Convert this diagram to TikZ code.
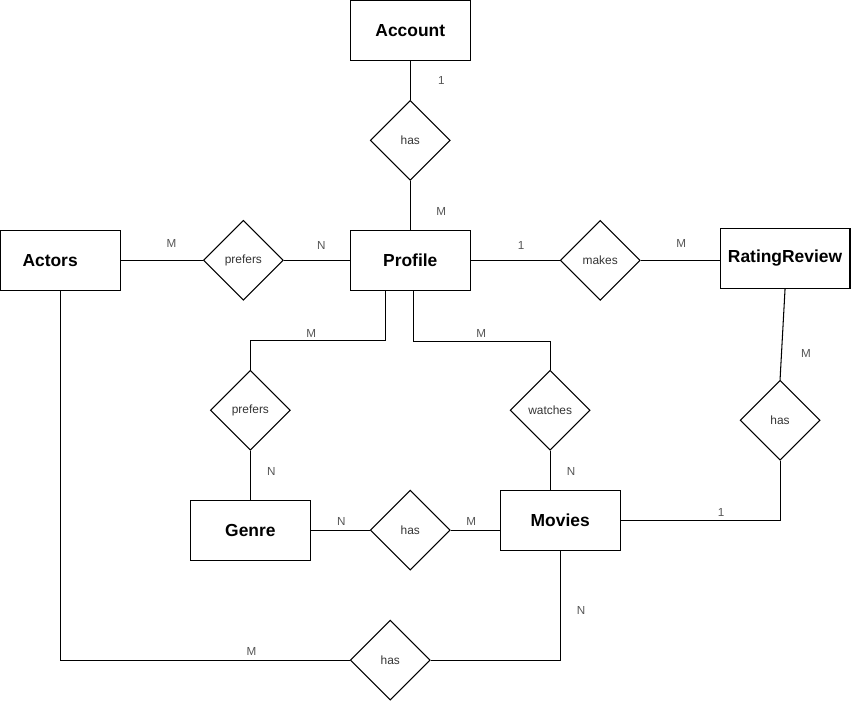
\documentclass[tikz,border=0pt]{standalone}
\usepackage{fontspec}
\setmainfont{Liberation Sans}
\usetikzlibrary{shapes.geometric}
\definecolor{ink}    {HTML}{000000}
\definecolor{reltext}{HTML}{333333}
\definecolor{muted}  {HTML}{555555}
\tikzset{
  entity/.style={draw=ink, line width=0.75pt, minimum width=3cm, minimum height=1.5cm,
    inner sep=0pt, font=\fontsize{12.4}{14}\selectfont\bfseries},
  relation/.style={draw=ink, line width=0.75pt, diamond, minimum width=2cm, minimum height=2cm,
    inner sep=0pt, text=reltext, font=\fontsize{8.5}{10}\selectfont},
  card/.style={text=muted, font=\fontsize{8.3}{10}\selectfont},
  link/.style={draw=ink, line width=0.75pt}
}
\begin{document}
\begin{tikzpicture}
    \node[entity] (account) at (10.25, 16.775) {Account};
    \node[entity] (profile) at (10.25, 11.025) {Profile};
    \node[entity, text width=1.9cm, align=left, inner xsep=0.55cm] (actors) at (1.5, 11.025) {Actors};
    \node[entity, minimum width=3.25cm] (rating) at (19.625, 11.075) {RatingReview};
    \node[entity] (genre)  at (6.25, 4.275) {Genre};
    \node[entity] (movies) at (14.0, 4.525) {Movies};

    \node[relation] (hasAccount) at (10.25, 14.025) {has};
    \node[relation] (prefersActors) at (6.075, 11.025) {prefers};
    \node[relation] (makes) at (15.0, 11.025) {makes};
    \node[relation] (prefersGenre) at (6.25, 7.275) {prefers};
    \node[relation] (watches) at (13.75, 7.275) {watches};
    \node[relation] (hasRating) at (19.5, 7.025) {has};
    \node[relation] (hasGenre) at (10.25, 4.275) {has};
    \node[relation] (hasActors) at (9.75, 1.025) {has};

    \draw[link] (account) -- (hasAccount);
    \draw[link] (hasAccount) -- (profile);
    \draw[link] (actors) -- (prefersActors);
    \draw[link] (prefersActors) -- (profile);
    \draw[link] (profile) -- (makes);
    \draw[link] (makes.east) -- (makes.east -| rating.west);
    \draw[link] ([xshift=-0.625cm]profile.south) -- ++(0, -1.25) -| (prefersGenre.north);
    \draw[link] ([xshift=0.075cm]profile.south) -- ++(0, -1.275) -| (watches.north);
    \draw[link] (prefersGenre) -- (genre);
    \draw[link] (watches.south) -- (watches.south |- movies.north);
    \draw[link] (genre) -- (hasGenre);
    \draw[link] (hasGenre.east) -- (hasGenre.east -| movies.west);
    \draw[link] (rating.south) -- (hasRating.north);
    \draw[link] (hasRating.south) |- (movies.east);
    \draw[link] (actors.south) |- (hasActors.west);
    \draw[link] (movies.south) |- (hasActors.east);

    \node[card] at (11.025, 15.525) {1};
    \node[card] at (11.025, 12.25)  {M};
    \node[card] at (4.275,  11.45)  {M};
    \node[card] at (8.025,  11.4)   {N};
    \node[card] at (13.025, 11.4)   {1};
    \node[card] at (17.025, 11.45)  {M};
    \node[card] at (7.775,  9.2)    {M};
    \node[card] at (12.025, 9.2)    {M};
    \node[card] at (20.15,  8.7)    {M};
    \node[card] at (6.775,  5.75)   {N};
    \node[card] at (14.275, 5.75)   {N};
    \node[card] at (8.525,  4.5)    {N};
    \node[card] at (11.775, 4.5)    {M};
    \node[card] at (18.025, 4.725)  {1};
    \node[card] at (6.275,  1.25)   {M};
    \node[card] at (14.525, 2.275)  {N};
    \useasboundingbox (0, 0) rectangle (21.275, 17.525);
\end{tikzpicture}
\end{document}
